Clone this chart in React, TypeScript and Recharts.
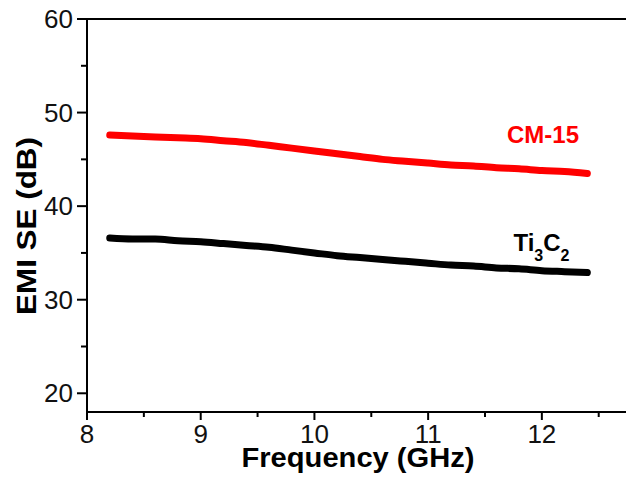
import React from 'react'
import { LineChart, Line, XAxis, YAxis, ReferenceLine, ReferenceDot } from 'recharts'

const FONT = '"Liberation Sans", Arial, sans-serif'

// frequency (GHz)
const freq = [8.2, 8.4, 8.6, 8.8, 9.0, 9.2, 9.4, 9.6, 9.8, 10.0, 10.2, 10.4, 10.6, 10.8, 11.0, 11.2, 11.4, 11.6, 11.8, 12.0, 12.2, 12.4]
// EMI SE (dB)
const cm15 = [47.6, 47.5, 47.4, 47.3, 47.2, 47.0, 46.8, 46.5, 46.2, 45.9, 45.6, 45.3, 45.0, 44.8, 44.6, 44.4, 44.3, 44.1, 44.0, 43.8, 43.7, 43.5]
const ti3c2 = [36.6, 36.5, 36.5, 36.3, 36.2, 36.0, 35.8, 35.6, 35.3, 35.0, 34.7, 34.5, 34.3, 34.1, 33.9, 33.7, 33.6, 33.4, 33.3, 33.1, 33.0, 32.9]

const xTicks = [8, 8.5, 9, 9.5, 10, 10.5, 11, 11.5, 12, 12.5]
const yTicks = [20, 25, 30, 35, 40, 45, 50, 55, 60]

const data = freq.map((f, i) => ({ f, cm15: cm15[i], ti3c2: ti3c2[i] }))

const XTick = ({ x, y, payload }: any) => {
  const major = Number.isInteger(payload.value)
  return (
    <g>
      <line x1={x} x2={x} y1={y} y2={y + (major ? 8 : 5)} stroke="#000" strokeWidth={2} />
      {major && (
        <text x={x} y={y + 31} textAnchor="middle" fontSize={26} fontFamily={FONT} fill="#111">
          {payload.value}
        </text>
      )}
    </g>
  )
}

const YTick = ({ x, y, payload }: any) => {
  const major = payload.value % 10 === 0
  return (
    <g>
      <line x1={x - (major ? 10 : 6)} x2={x} y1={y} y2={y} stroke="#000" strokeWidth={2} />
      {major && (
        <text x={x - 14} y={y + 9} textAnchor="end" fontSize={26} fontFamily={FONT} fill="#111">
          {payload.value}
        </text>
      )}
    </g>
  )
}

export default function App() {
  return (
    <div style={{ width: 626, height: 479, background: '#fff' }}>
      <style>{'body{margin:0}'}</style>
      <LineChart width={626} height={479} data={data} margin={{ top: 19, right: 0, bottom: 0, left: 27 }}>
        <XAxis
          dataKey="f"
          type="number"
          domain={[8, 12.74]}
          ticks={xTicks}
          interval={0}
          allowDataOverflow
          height={67}
          tickSize={0}
          tickMargin={0}
          tickLine={false}
          tick={<XTick />}
          axisLine={{ stroke: '#000', strokeWidth: 2 }}
          label={{
            content: () => (
              <text x={358} y={467} textAnchor="middle" fontSize={28} fontWeight="bold" fontFamily={FONT}
                fill="#000" textLength={233} lengthAdjust="spacingAndGlyphs">
                Frequency (GHz)
              </text>
            ),
          }}
        />
        <YAxis
          type="number"
          domain={[18, 60]}
          ticks={yTicks}
          interval={0}
          allowDataOverflow
          width={60}
          tickSize={0}
          tickMargin={0}
          tickLine={false}
          tick={<YTick />}
          axisLine={{ stroke: '#000', strokeWidth: 2 }}
          label={{
            content: () => (
              <text x={36} y={226} transform="rotate(-90 36 226)" textAnchor="middle" fontSize={28}
                fontWeight="bold" fontFamily={FONT} fill="#000" textLength={178} lengthAdjust="spacingAndGlyphs">
                EMI SE (dB)
              </text>
            ),
          }}
        />
        <ReferenceLine y={60} stroke="#000" strokeWidth={2} />
        <Line dataKey="cm15" type="monotone" stroke="#ff0000" strokeWidth={7} strokeLinecap="round" dot={false} isAnimationActive={false} />
        <Line dataKey="ti3c2" type="monotone" stroke="#000" strokeWidth={7} strokeLinecap="round" dot={false} isAnimationActive={false} />
        <ReferenceDot
          x={12.01}
          y={46.7}
          r={0}
          shape={(p: any) => (
            <text x={p.cx} y={p.cy} textAnchor="middle" fontSize={24} fontWeight="bold" fontFamily={FONT} fill="#ff0000">
              CM-15
            </text>
          )}
        />
        <ReferenceDot
          x={11.75}
          y={35.2}
          r={0}
          shape={(p: any) => (
            <text x={p.cx} y={p.cy} fontSize={24} fontWeight="bold" fontFamily={FONT} fill="#000">
              Ti
              <tspan fontSize={16} dy={10}>3</tspan>
              <tspan dy={-10}>C</tspan>
              <tspan fontSize={16} dy={10}>2</tspan>
            </text>
          )}
        />
      </LineChart>
    </div>
  )
}
